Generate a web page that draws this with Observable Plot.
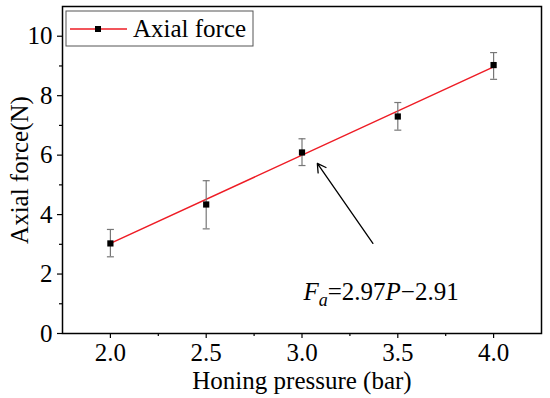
<!DOCTYPE html>
<html><head><meta charset="utf-8">
<script src="https://cdn.jsdelivr.net/npm/d3@7"></script>
<script src="https://cdn.jsdelivr.net/npm/@observablehq/plot@0.6"></script>
<style>body{margin:0;background:#fff} svg, svg text{font-family:"Liberation Serif","Times New Roman","DejaVu Serif",serif !important}</style>
</head><body><div id="chart"></div>
<script>
const pressure = [2.0, 2.5, 3.0, 3.5, 4.0];
const force = [3.03, 4.34, 6.09, 7.30, 9.03];
const errTop = [3.50, 5.14, 6.55, 7.77, 9.45];
const errBottom = [2.58, 3.52, 5.65, 6.84, 8.55];
const fitX = [2.0, 4.0];
const fitY = [3.03, 8.97];
const xTicks = [2.0, 2.5, 3.0, 3.5, 4.0];
const xMinor = [2.25, 2.75, 3.25, 3.75];
const yTicks = [0, 2, 4, 6, 8, 10];
const yMinor = [1, 3, 5, 7, 9];
const arrowStart = [3.37, 3.03];
const arrowEnd = [3.08, 5.72];
const eqAnchor = [3.01, 1.11];
const seriesName = "Axial force";
const xLabel = "Honing pressure (bar)";
const yLabel = "Axial force(N)";

const FONT = '"Liberation Serif", "Times New Roman", serif';
const pts = pressure.map((p, i) => ({p, f: force[i], hi: errTop[i], lo: errBottom[i]}));
const fit = fitX.map((x, i) => ({x, y: fitY[i]}));
const capSymbol = {draw(ctx, size) { const r = Math.sqrt(size / Math.PI); ctx.moveTo(-r, 0); ctx.lineTo(r, 0); }};

const plot = Plot.plot({
  width: 550, height: 398,
  marginLeft: 62, marginRight: 9, marginTop: 6, marginBottom: 65,
  style: {fontFamily: FONT, fontSize: "25px", color: "#000", background: "#fff"},
  x: {domain: [1.75, 4.25]},
  y: {domain: [0, 11]},
  marks: [
    Plot.axisX({ticks: xMinor, tickSize: 3, text: null, label: null, strokeWidth: 1.2}),
    Plot.axisY({ticks: yMinor, tickSize: 3, text: null, label: null, strokeWidth: 1.2}),
    Plot.axisX({ticks: xTicks, tickSize: 5, tickPadding: 5, tickFormat: d3.format(".1f"), fontSize: 25,
      label: xLabel, labelAnchor: "center", labelArrow: "none", labelOffset: 55, strokeWidth: 1.2}),
    Plot.axisY({ticks: yTicks, tickSize: 5, tickPadding: 5, fontSize: 25,
      label: yLabel, labelAnchor: "center", labelArrow: "none", labelOffset: 52, strokeWidth: 1.2}),
    Plot.frame({stroke: "#000", strokeWidth: 1.5}),
    Plot.line(fit, {x: "x", y: "y", stroke: "#ee1c25", strokeWidth: 1.5}),
    Plot.ruleX(pts, {x: "p", y1: "lo", y2: "hi", stroke: "#777", strokeWidth: 1.2}),
    Plot.dot(pts, {x: "p", y: "hi", symbol: capSymbol, r: 3.5, fill: "none", stroke: "#777", strokeWidth: 1.2}),
    Plot.dot(pts, {x: "p", y: "lo", symbol: capSymbol, r: 3.5, fill: "none", stroke: "#777", strokeWidth: 1.2}),
    Plot.dot(pts, {x: "p", y: "f", symbol: "square", r: 3.5, fill: "#000", stroke: "none"}),
    Plot.arrow([{x1: arrowStart[0], y1: arrowStart[1], x2: arrowEnd[0], y2: arrowEnd[1]}],
      {x1: "x1", y1: "y1", x2: "x2", y2: "y2", stroke: "#000", strokeWidth: 1.3, headLength: 11, bend: 0})
  ]
});
document.getElementById("chart").appendChild(plot);

const svg = d3.select(plot);
const sx = plot.scale("x"), sy = plot.scale("y");
// equation annotation
const eq = svg.append("text")
  .attr("x", sx.apply(eqAnchor[0])).attr("y", sy.apply(eqAnchor[1]))
  .attr("text-anchor", "start")
  .attr("font-size", 25).attr("fill", "#000");
eq.append("tspan").attr("font-style", "italic").text("F");
eq.append("tspan").attr("font-style", "italic").attr("font-size", 18).attr("dy", 6).text("a");
eq.append("tspan").attr("dy", -6).text("=2.97");
eq.append("tspan").attr("font-style", "italic").text("P");
eq.append("tspan").text("\u22122.91");

// legend
const lg = svg.append("g");
lg.append("rect").attr("x", 66).attr("y", 11).attr("width", 187).attr("height", 35)
  .attr("fill", "#fff").attr("stroke", "#555").attr("stroke-width", 1);
lg.append("line").attr("x1", 70).attr("x2", 127).attr("y1", 29).attr("y2", 29)
  .attr("stroke", "#ee1c25").attr("stroke-width", 1.5);
lg.append("rect").attr("x", 95).attr("y", 26).attr("width", 6).attr("height", 6).attr("fill", "#000");
lg.append("text").attr("x", 133).attr("y", 37).attr("text-anchor", "start").attr("font-size", 25)
  .text(seriesName);
</script>
</body></html>
